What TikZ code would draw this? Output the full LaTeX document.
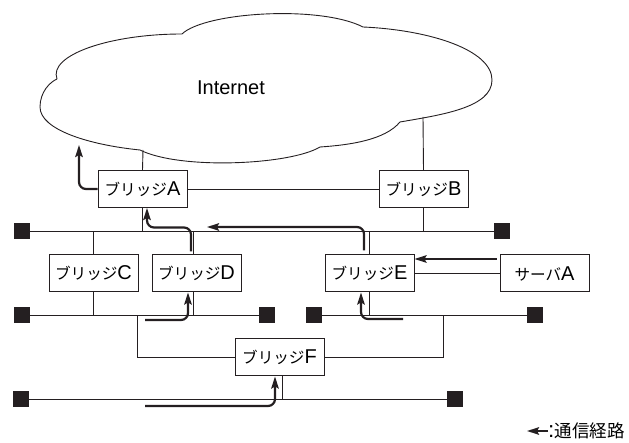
\documentclass[tikz,border=0pt]{standalone}
\usepackage{fontspec}
\setmainfont{Liberation Sans}
\newfontfamily\jp{Noto Sans CJK JP}[Scale=0.78]
\usepackage{tikz}
\usetikzlibrary{positioning, arrows.meta}
\usepackage{xcolor}
\newcommand{\bridgename}[1]{{\jp ブリッジ}#1}

\begin{document}
\begin{tikzpicture}[x=1pt, y=-1pt,
        box/.style={draw=ink, line width=1pt, fill=white, minimum width=89pt, minimum height=37pt, inner sep=0pt, font=\fontsize{20}{24}\selectfont},
        term/.style={fill=ink, minimum size=16pt, inner sep=0pt},
        wire/.style={draw=ink, line width=0.9pt},
        route/.style={draw=ink, line width=2.2pt, rounded corners=7pt, -{Stealth[length=12pt,width=7.5pt,inset=2pt]}}]
        % Define some colors for convenience
        \definecolor{ink}{rgb}{0.14,0.12,0.13} % line color
        \useasboundingbox (0,0) rectangle (629,443);

        % Internet cloud
        \draw[wire] (57,79) .. controls (48,55) and (110,34) .. (182,34) % upper left lobe
            .. controls (205,12) and (320,5) .. (363,27) % top lobe
            .. controls (430,30) and (492,50) .. (492,80)
            .. controls (492,108) and (440,115) .. (400,122) % right lobe
            .. controls (385,140) and (350,145) .. (320,147)
            .. controls (290,165) and (180,170) .. (140,150) % bottom lobe
            .. controls (90,145) and (40,130) .. (40,107)
            .. controls (40,92) and (50,82) .. (57,79); % left lobe
        \node[font=\fontsize{20}{24}\selectfont] (inet) at (231,88) {Internet};
        \coordinate (cA) at (143,150); % cloud edge above bridge A
        \coordinate (cB) at (423,117); % cloud edge above bridge B

        % Bridges and server
        \node[box] (brA) at (142.5,189) {\bridgename{A}};
        \node[box] (brB) at (423.5,189) {\bridgename{B}};
        \node[box] (brC) at (93.5,273.5) {\bridgename{C}};
        \node[box] (brD) at (196.5,273.5) {\bridgename{D}};
        \node[box] (brE) at (369.5,273.5) {\bridgename{E}};
        \node[box] (srvA) at (544.5,273.5) {{\jp サーバ}A};
        \node[box] (brF) at (279.5,357.5) {\bridgename{F}};

        % Segment end terminals
        \node[term] (s1a) at (22,231) {};
        \node[term] (s1b) at (502,231) {};
        \node[term] (s2a) at (22,315) {};
        \node[term] (s2b) at (267,315) {};
        \node[term] (s3a) at (314,315) {};
        \node[term] (s3b) at (535,315) {};
        \node[term] (s4a) at (21,399) {};
        \node[term] (s4b) at (455,399) {};
        \coordinate (j2) at (137,315); % tap on segment 2
        \coordinate (j3) at (443,315); % tap on segment 3

        % Segments
        \draw[wire] (s1a) -- (s1b);
        \draw[wire] (s2a) -- (s2b);
        \draw[wire] (s3a) -- (s3b);
        \draw[wire] (s4a) -- (s4b);

        % Links
        \draw[wire] (brA.north) -- (cA);
        \draw[wire] (brB.north) -- (cB);
        \draw[wire] (brA) -- (brB);
        \draw[wire] (brA.south) -- (brA.south |- s1a);
        \draw[wire] (brB.south) -- (brB.south |- s1a);
        \draw[wire] (brC.north) -- (brC.north |- s1a);
        \draw[wire] (brC.south) -- (brC.south |- s2a);
        \draw[wire] ([xshift=-3.5pt]brD.north) -- ([xshift=-3.5pt]brD.north |- s1a);
        \draw[wire] ([xshift=-3.5pt]brD.south) -- ([xshift=-3.5pt]brD.south |- s2a);
        \draw[wire] (brE.north) -- (brE.north |- s1a);
        \draw[wire] (brE.south) -- (brE.south |- s3a);
        \draw[wire] (brE) -- (srvA);
        \draw[wire] (brF.west) -| (j2);
        \draw[wire] (brF.east) -| (j3);
        \draw[wire] ([xshift=2.5pt]brF.south) -- ([xshift=2.5pt]brF.south |- s4a);

        % Communication routes
        \coordinate (r1) at (145,406);
        \coordinate (r2) at (145,320);
        \coordinate (r6) at (403,319);
        \coordinate (q4) at (207,227);
        \coordinate (q7) at (79,145);
        \draw[route] (r1) -| ([xshift=-4.5pt]brF.south); % into F
        \draw[route] (r2) -| ([xshift=-8.5pt]brD.south); % into D
        \draw[route] ([xshift=-5.5pt,yshift=3pt]brD.north) -- ++(0,-24) -| ([xshift=4.5pt]brA.south); % D to A
        \draw[route] ([xshift=-5.5pt,yshift=4pt]brE.north) |- (q4); % E along segment 1
        \draw[route] ([xshift=-3pt,yshift=14.5pt]srvA.west) -- ([yshift=14.5pt]brE.east); % server to E
        \draw[route] (r6) -| ([xshift=-8.5pt]brE.south); % into E
        \draw[route] (brA.west) -| (q7); % A to Internet

        % Legend
        \node[anchor=west, inner sep=0pt, font=\fontsize{22.5}{27}\selectfont] (legend) at (548,431) {:{\jp 通信経路}};
        \draw[route] (legend.west) -- ++(-21,0);
\end{tikzpicture}
\end{document}
